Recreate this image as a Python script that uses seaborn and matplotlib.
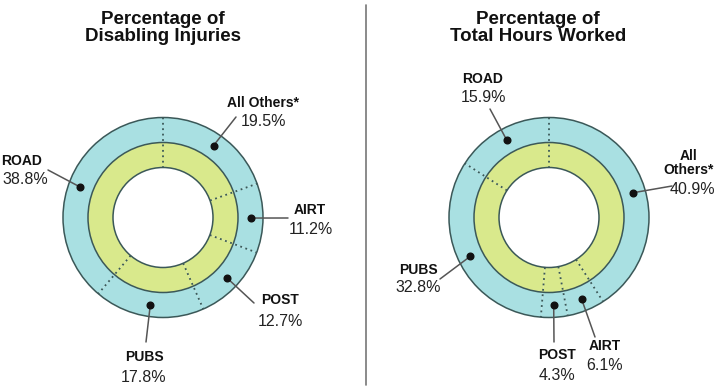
import numpy as np
import matplotlib
matplotlib.use("Agg")
import matplotlib.pyplot as plt
import seaborn as sns
from matplotlib.patches import Circle

# ---- data ----
categories = ["All Others*", "AIRT", "POST", "PUBS", "ROAD"]
injury_pct = [19.5, 11.2, 12.7, 17.8, 38.8]
hours_pct = [40.9, 6.1, 4.3, 32.8, 15.9]
injury_names = ["All Others*", "AIRT", "POST", "PUBS", "ROAD"]
hours_names = ["All\nOthers*", "AIRT", "POST", "PUBS", "ROAD"]
titles = ["Percentage of\nDisabling Injuries", "Percentage of\nTotal Hours Worked"]

# ---- style ----
sns.set_theme(style="white")
FONT = ["Liberation Sans Narrow", "Liberation Sans", "DejaVu Sans"]
plt.rcParams["font.family"] = FONT
CYAN = "#a9e0e2"
GREEN = "#d9e98c"
EDGE = "#3b5858"
W, H = 720, 391

fig = plt.figure(figsize=(7.2, 3.91), dpi=100)
ax = fig.add_axes([0, 0, 1, 1])


def Y(y):
    return H - y


def donut(cx, cy, values, names, name_pos, pct_pos, line_end):
    R, Rm, Ri = 100, 75, 50
    c = (cx, Y(cy))
    ax.pie(values, radius=R, center=c, startangle=90, counterclock=False,
           colors=[CYAN] * len(values), wedgeprops=dict(width=R - Rm, linewidth=0))
    ax.pie(values, radius=Rm, center=c, startangle=90, counterclock=False,
           colors=[GREEN] * len(values), wedgeprops=dict(width=Rm - Ri, linewidth=0))
    for r in (R, Rm, Ri):
        ax.add_patch(Circle(c, r, fill=False, ec=EDGE, lw=1.1, zorder=3))
    vals = np.asarray(values, float)
    cum = np.concatenate([[0], np.cumsum(vals)]) / vals.sum()
    ang = np.deg2rad(90 - 360 * cum)
    for a in ang[:-1]:
        ax.plot([c[0] + Ri * np.cos(a), c[0] + R * np.cos(a)],
                [c[1] + Ri * np.sin(a), c[1] + R * np.sin(a)],
                ls=(0, (1, 2.0)), color=EDGE, lw=1.3, zorder=3)
    mids = (ang[:-1] + ang[1:]) / 2
    for i, (m, v, nm) in enumerate(zip(mids, values, names)):
        dx, dy = c[0] + 88 * np.cos(m), c[1] + 88 * np.sin(m)
        ax.plot([dx, line_end[i][0]], [dy, Y(line_end[i][1])], color="#555555", lw=1.1, zorder=4)
        ax.plot(dx, dy, "o", color="#111111", ms=4.8, zorder=5)
        ax.text(name_pos[i][0], Y(name_pos[i][1]), nm, ha="center", va="center",
                fontsize=10, fontweight="bold", color="#111111", linespacing=1.0, family=FONT)
        ax.text(pct_pos[i][0], Y(pct_pos[i][1]), f"{v}%", ha="center", va="center",
                fontsize=11.5, color="#222222", family=FONT)


# layout (pixel positions, top-origin), order follows categories
donut(163, 217.5, injury_pct, injury_names,
      name_pos=[(263, 103), (310, 210), (280, 300), (144, 357), (22, 161)],
      pct_pos=[(263, 122), (311, 229), (280, 321), (144, 377), (25, 180)],
      line_end=[(236, 117), (288, 218), (254, 303), (146, 342), (48, 170)])
donut(549, 217.5, hours_pct, hours_names,
      name_pos=[(689, 163), (605, 346), (557, 355), (418, 270), (483, 79)],
      pct_pos=[(692, 190), (605, 365), (557, 375), (418, 288), (483, 98)],
      line_end=[(672, 186), (595, 337), (554, 342), (440, 279), (490, 109)])

for tx, t in zip([163, 538], titles):
    ax.text(tx, Y(28), t, ha="center", va="center", fontsize=13.5, fontweight="bold",
            color="#111111", linespacing=1.05, family=FONT)

ax.plot([366, 366], [Y(5), Y(385)], color="#777777", lw=1.2)

ax.set_xlim(0, W)
ax.set_ylim(0, H)
ax.set_aspect("equal")
ax.axis("off")
fig.savefig("out.png", dpi=100, facecolor="white")
